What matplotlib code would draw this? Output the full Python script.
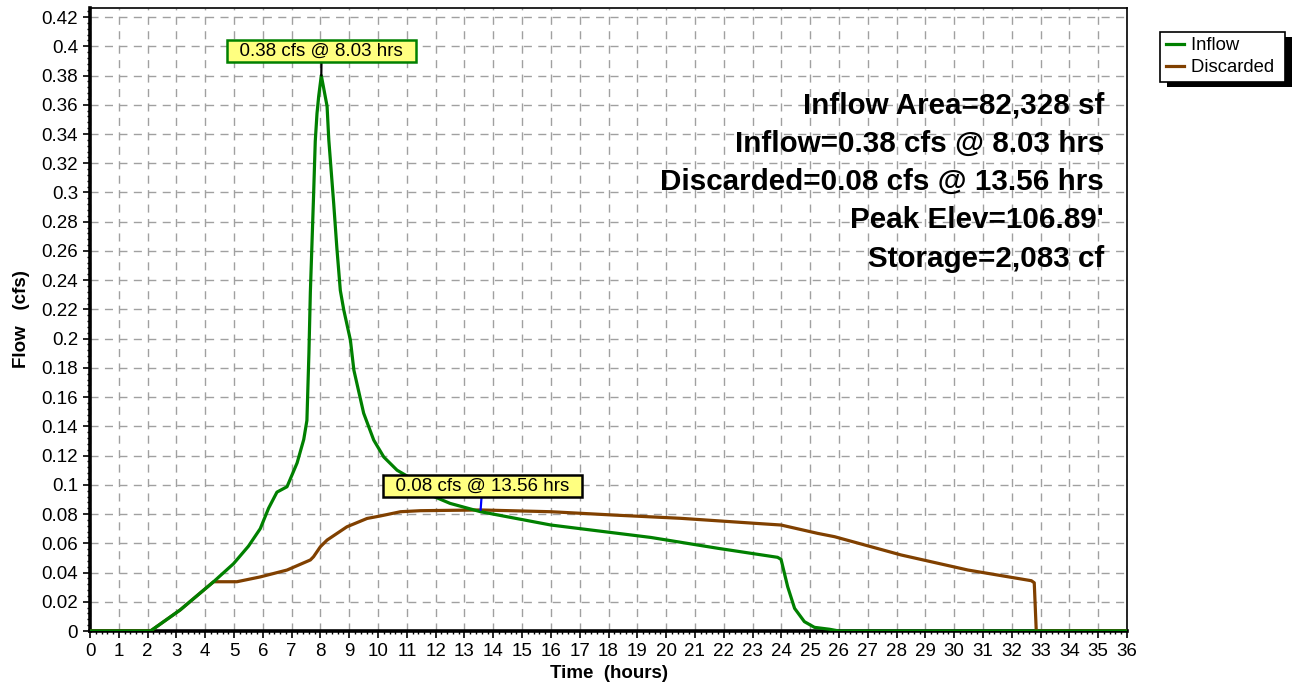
from __future__ import annotations

import matplotlib

matplotlib.use("Agg")

import matplotlib.pyplot as plt
from matplotlib.patches import Rectangle
from matplotlib.ticker import MultipleLocator, FuncFormatter


# hydrograph values
inflow_hours = [0, 2.1, 3.13, 4.29, 4.98, 5.5, 5.91, 6.2, 6.49, 6.84, 7.19, 7.42, 7.53,
                7.60, 7.65, 7.76, 7.82, 7.88, 7.94, 8.03, 8.23, 8.29, 8.46, 8.57, 8.69,
                8.81, 9.04, 9.16, 9.50, 9.85, 10.2, 10.66, 11.24, 11.7, 12.5, 13.56,
                16.0, 19.47, 21.79, 23.87, 23.99, 24.22, 24.46, 24.8, 25.15, 25.67,
                26.0, 36]
inflow_cfs = [0, 0, 0.0144, 0.0337, 0.046, 0.058, 0.070, 0.084, 0.095, 0.0987, 0.115,
              0.131, 0.144, 0.190, 0.232, 0.297, 0.335, 0.354, 0.366, 0.380, 0.359,
              0.336, 0.2925, 0.262, 0.233, 0.2196, 0.199, 0.1785, 0.149, 0.1306,
              0.119, 0.110, 0.1033, 0.094, 0.0873, 0.0816, 0.0725, 0.064, 0.0566,
              0.0504, 0.049, 0.0303, 0.0155, 0.0064, 0.0025, 0.0012, 0, 0]

discarded_hours = [0, 2.1, 3.13, 4.29, 5.1, 5.91, 6.84, 7.65, 7.76, 8.0, 8.23, 8.92,
                   9.62, 10.08, 10.78, 11.47, 13.56, 16.0, 18.2, 20.5, 23.06, 23.99,
                   25.26, 25.85, 28.16, 30.48, 32.68, 32.78, 32.85, 36]
discarded_cfs = [0, 0, 0.0144, 0.0337, 0.0337, 0.037, 0.0417, 0.0486, 0.0508, 0.0577,
                 0.0622, 0.0713, 0.077, 0.0787, 0.0816, 0.0823, 0.0828, 0.0816, 0.0793,
                 0.0771, 0.0737, 0.0725, 0.0668, 0.0645, 0.052, 0.0417, 0.0344, 0.033,
                 0, 0]

summary_lines = [
    "Inflow Area=82,328 sf",
    "Inflow=0.38 cfs @ 8.03 hrs",
    "Discarded=0.08 cfs @ 13.56 hrs",
    "Peak Elev=106.89'",
    "Storage=2,083 cf",
]

GREEN = "#008000"
BROWN = "#804000"

plt.rcParams["font.family"] = ["Liberation Sans", "DejaVu Sans"]

fig = plt.figure(figsize=(12.96, 6.83), dpi=100)
ax = fig.add_axes([90 / 1296, 52 / 683, 1037 / 1296, 623 / 683])

ax.plot(inflow_hours, inflow_cfs, color=GREEN, lw=2.3, label="Inflow ", zorder=4)
ax.plot(discarded_hours, discarded_cfs, color=BROWN, lw=2.3, label="Discarded ", zorder=3)

ax.set_xlim(0, 36)
ax.set_ylim(0, 0.4262)
ax.xaxis.set_major_locator(MultipleLocator(1))
ax.xaxis.set_minor_locator(MultipleLocator(0.2))
ax.yaxis.set_major_locator(MultipleLocator(0.02))
ax.yaxis.set_minor_locator(MultipleLocator(0.004))
ax.yaxis.set_major_formatter(FuncFormatter(lambda v, p: f"{v:.2f}".rstrip("0").rstrip(".") if v else "0"))

ax.tick_params(which="major", direction="out", length=5, width=1.2, labelsize=13.5, pad=3.5)
ax.tick_params(which="minor", direction="out", length=2.5, width=1)
ax.grid(True, which="major", color="#a0a0a0", lw=1, linestyle=(0, (5.8, 4.6)))
ax.set_axisbelow(True)

for side in ("left", "bottom"):
    ax.spines[side].set_linewidth(2.6)
for side in ("top", "right"):
    ax.spines[side].set_linewidth(1.2)

ax.set_xlabel("Time  (hours)", fontsize=13.5, fontweight="bold", labelpad=4)
ax.set_ylabel("Flow   (cfs)", fontsize=13.5, fontweight="bold", labelpad=8)

# peak call-outs
ax.annotate("  0.38 cfs @ 8.03 hrs  ", xy=(8.03, 0.38), xytext=(8.04, 0.3965),
            ha="center", va="center", fontsize=13.5,
            bbox=dict(boxstyle="square,pad=0.13", fc="#ffff80", ec=GREEN, lw=1.8),
            arrowprops=dict(arrowstyle="-", color="black", lw=1.6, shrinkA=0, shrinkB=0),
            zorder=6)
ax.annotate("  0.08 cfs @ 13.56 hrs  ", xy=(13.56, 0.0828), xytext=(13.62, 0.0992),
            ha="center", va="center", fontsize=13.5,
            bbox=dict(boxstyle="square,pad=0.13", fc="#ffff80", ec="black", lw=1.8),
            arrowprops=dict(arrowstyle="-", color="#0000ff", lw=1.6, shrinkA=0, shrinkB=0),
            zorder=6)

for i, line in enumerate(summary_lines):
    ax.text(0.978, 0.831 - i * 0.0616, line, transform=ax.transAxes, ha="right",
            va="baseline", fontsize=21.3, fontweight="bold", zorder=5)

leg = fig.legend(loc="upper left", bbox_to_anchor=(1160 / 1296, 1 - 31.7 / 683),
                 borderaxespad=0, fontsize=13.3, frameon=True, fancybox=False,
                 edgecolor="black", framealpha=1, borderpad=0.3, labelspacing=0.27,
                 handlelength=1.0, handletextpad=0.4)
leg.get_frame().set_linewidth(1.2)

fig.canvas.draw()
bb = leg.get_window_extent().transformed(fig.transFigure.inverted())
dx, dy = 7 / 1296, 5 / 683
fig.add_artist(Rectangle((bb.x0 + dx, bb.y0 - dy), bb.width, bb.height,
                         transform=fig.transFigure, fc="black", ec="none", zorder=0.5))

fig.savefig("out.png", dpi=100)
